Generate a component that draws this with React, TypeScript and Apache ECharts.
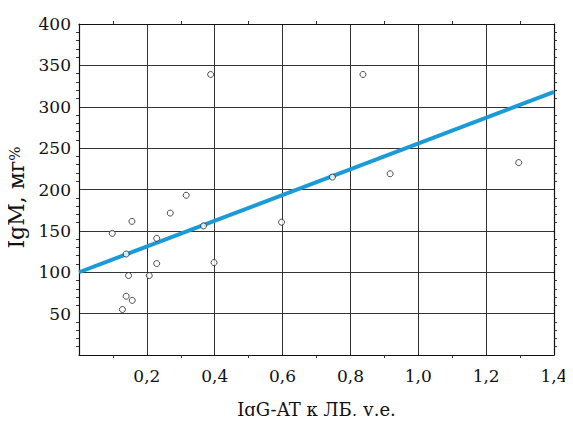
import React, { useEffect, useRef } from "react";
import * as echarts from "echarts";

const pointsX = [0.098, 0.156, 0.139, 0.146, 0.139, 0.157, 0.128, 0.207, 0.229, 0.229, 0.269, 0.316, 0.367, 0.388, 0.398, 0.597, 0.747, 0.837, 0.917, 1.296];
const pointsY = [147, 161.5, 122, 96, 71, 66, 55, 96, 141, 110.5, 171.5, 193, 156, 339, 111.7, 160.5, 215, 339, 219, 232.5];
const trendX = [0, 1.4];
const trendY = [100, 318];

const xTicks = { min: 0, max: 1.4, interval: 0.2 };
const yTicks = { min: 0, max: 400, interval: 50 };

const FONT = "DejaVu Serif";

export default function App() {
  const ref = useRef<HTMLDivElement>(null);
  useEffect(() => {
    if (!ref.current) return;
    const chart = echarts.init(ref.current, null, { renderer: "svg" });
    const scatter = pointsX.map((x, i) => [x, pointsY[i]]);
    const trend = trendX.map((x, i) => [x, trendY[i]]);
    const frame = { show: true, onZero: false, lineStyle: { color: "#111", width: 1.2 } };
    const minorTick = { show: true, length: 3, lineStyle: { color: "#333", width: 1 } };
    chart.setOption({
      animation: false,
      backgroundColor: "#fff",
      grid: { left: 79, right: 19, top: 24, bottom: 69, containLabel: false, outerBoundsMode: "none" },
      xAxis: [
        {
          type: "value",
          ...xTicks,
          position: "bottom",
          axisLine: frame,
          axisTick: { show: false },
          minorTick: { ...minorTick, splitNumber: 2 },
          axisLabel: {
            margin: 12,
            fontFamily: FONT,
            fontSize: 17,
            color: "#111",
            formatter: (v: number) => (v === 0 ? "" : v.toFixed(1).replace(".", ",")),
          },
          splitLine: { show: true, lineStyle: { color: "#333", width: 1 } },
          name: "IgG-AT к ЛБ, у.е.",
          nameLocation: "middle",
          nameGap: 45,
          nameTextStyle: { fontFamily: FONT, fontSize: 18, color: "#111" },
        },
        {
          type: "value",
          ...xTicks,
          position: "top",
          axisLine: frame,
          axisTick: { show: false },
          minorTick: { ...minorTick, splitNumber: 2 },
          axisLabel: { show: false },
          splitLine: { show: false },
        },
      ],
      yAxis: [
        {
          type: "value",
          ...yTicks,
          position: "left",
          axisLine: frame,
          axisTick: { show: false },
          minorTick: { ...minorTick, splitNumber: 5 },
          axisLabel: {
            margin: 8,
            fontFamily: FONT,
            fontSize: 17,
            color: "#111",
            formatter: (v: number) => (v === 0 ? "" : String(v)),
          },
          splitLine: { show: true, lineStyle: { color: "#333", width: 1 } },
          name: "{a|IgM, мг}{b|%}",
          nameLocation: "middle",
          nameRotate: 90,
          nameGap: 46,
          nameTextStyle: {
            fontFamily: FONT,
            fontSize: 22,
            color: "#111",
            padding: [0, 16, 0, 0],
            rich: {
              a: { fontFamily: FONT, fontSize: 22, color: "#111", verticalAlign: "bottom" },
              b: { fontFamily: FONT, fontSize: 15, color: "#111", padding: [0, 0, 5, 0], verticalAlign: "bottom" },
            },
          },
        },
        {
          type: "value",
          ...yTicks,
          position: "right",
          axisLine: frame,
          axisTick: { show: false },
          minorTick: { ...minorTick, splitNumber: 5 },
          axisLabel: { show: false },
          splitLine: { show: false },
        },
      ],
      series: [
        {
          type: "line",
          data: trend,
          xAxisIndex: 0,
          yAxisIndex: 0,
          showSymbol: false,
          symbol: "none",
          lineStyle: { color: "#1a9bd7", width: 4 },
          z: 3,
        },
        {
          type: "scatter",
          data: scatter,
          xAxisIndex: 0,
          yAxisIndex: 0,
          symbol: "circle",
          symbolSize: 6,
          itemStyle: { color: "#fff", borderColor: "#222", borderWidth: 1 },
          z: 4,
        },
      ],
    });
    return () => chart.dispose();
  }, []);
  return <div ref={ref} style={{ width: 573, height: 424, margin: -8 }} />;
}
